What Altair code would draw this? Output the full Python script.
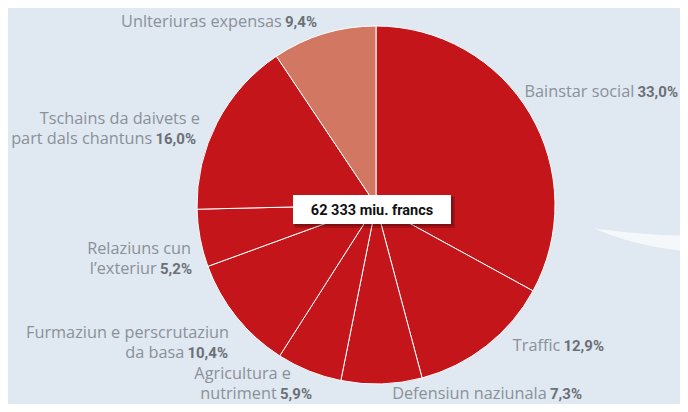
import altair as alt
import pandas as pd

# ---------------- data ----------------
categories = [
    "Bainstar social", "Traffic", "Defensiun naziunala", "Agricultura e nutriment",
    "Furmaziun e perscrutaziun da basa", "Relaziuns cun l’exteriur",
    "Tschains da daivets e part dals chantuns", "Unlteriuras expensas",
]
shares = [33.0, 12.9, 7.3, 5.9, 10.4, 5.2, 16.0, 9.4]
label_line1 = ["", "", "", "Agricultura e", "Furmaziun e perscrutaziun",
               "Relaziuns cun", "Tschains da daivets e", ""]
label_line2 = ["Bainstar social", "Traffic", "Defensiun naziunala", "nutriment",
               "da basa", "l’exteriur", "part dals chantuns", "Unlteriuras expensas"]
total_label = "62 333 miu. francs"

# ---------------- styles / layout ----------------
RED = "#c4161a"
SALMON = "#d27862"
BG = "#e0e8f1"
slice_colors = [RED] * 7 + [SALMON]
REG_FONT = "Open Sans"
BOLD_FONT = "Roboto"
REG_COLOR = "#8a9199"
BOLD_COLOR = "#6b7077"
FS = 16.3
BFS = 15

W, H = 672, 396
CX, CY, R = 368, 197, 179

label_right = [670, 596, 574, 304, 220, 184, 188, 309]
label_base = [89, 343, 391, 391, 350, 266, 136, 19]
line1_right = [0, 0, 0, 283, 221, 183, 192, 0]
LINE_GAP = 20


def fmt(v):
    return f"{v:.1f}".replace(".", ",") + "%"


def bold_width(s, size=BFS):
    w = 0.0
    for ch in s:
        if ch.isdigit():
            w += 0.562
        elif ch == ",":
            w += 0.22
        elif ch == "%":
            w += 0.74
        else:
            w += 0.3
    return w * size


pie_df = pd.DataFrame({
    "category": categories,
    "share": shares,
    "order": list(range(len(shares))),
    "color": slice_colors,
})

bold_txt = [fmt(v) for v in shares]
lab_df = pd.DataFrame({
    "line1": label_line1,
    "line2": label_line2,
    "bold": bold_txt,
    "R": label_right,
    "base": label_base,
    "rx": [r - bold_width(b) - 4 for r, b in zip(label_right, bold_txt)],
    "R1": line1_right,
    "base1": [b - LINE_GAP for b in label_base],
})

one = pd.DataFrame({"k": [0]})

# decorative swoosh (white crescent)
swoosh_white = alt.Chart(one).mark_arc(
    radius=297, theta=0, theta2=6.2832, color="#f5f8fb", clip=True
).encode(x=alt.value(702), y=alt.value(-53))
swoosh_cover = alt.Chart(one).mark_arc(
    radius=631, theta=0, theta2=6.2832, color=BG, clip=True
).encode(x=alt.value(682), y=alt.value(-403.5))

pie = alt.Chart(pie_df).mark_arc(radius=R, stroke="white", strokeWidth=1).encode(
    theta=alt.Theta("share:Q", stack=True),
    order=alt.Order("order:Q", sort="ascending"),
    color=alt.Color("color:N", scale=None, legend=None),
    x=alt.value(CX),
    y=alt.value(CY),
)

shadow1 = alt.Chart(one).mark_rect(color="black", opacity=0.18).encode(
    x=alt.value(287), x2=alt.value(447), y=alt.value(189), y2=alt.value(220))
shadow2 = alt.Chart(one).mark_rect(color="black", opacity=0.18).encode(
    x=alt.value(286), x2=alt.value(445), y=alt.value(188), y2=alt.value(218))
box = alt.Chart(one).mark_rect(color="white").encode(
    x=alt.value(285), x2=alt.value(443), y=alt.value(187), y2=alt.value(216))
center_text = alt.Chart(one).mark_text(
    text=total_label, font=BOLD_FONT, fontWeight="bold", fontSize=14.5,
    color="#111111", align="center", baseline="alphabetic"
).encode(x=alt.value(364), y=alt.value(207))

bold_layer = alt.Chart(lab_df).mark_text(
    font=BOLD_FONT, fontWeight="bold", fontSize=BFS, color=BOLD_COLOR,
    align="right", baseline="alphabetic"
).encode(
    x=alt.X("R:Q", scale=None, axis=None),
    y=alt.Y("base:Q", scale=None, axis=None),
    text="bold:N",
)
reg2_layer = alt.Chart(lab_df).mark_text(
    font=REG_FONT, fontSize=FS, color=REG_COLOR, align="right", baseline="alphabetic"
).encode(
    x=alt.X("rx:Q", scale=None, axis=None),
    y=alt.Y("base:Q", scale=None, axis=None),
    text="line2:N",
)
reg1_layer = alt.Chart(lab_df).transform_filter(
    alt.datum.line1 != ""
).mark_text(
    font=REG_FONT, fontSize=FS, color=REG_COLOR, align="right", baseline="alphabetic"
).encode(
    x=alt.X("R1:Q", scale=None, axis=None),
    y=alt.Y("base1:Q", scale=None, axis=None),
    text="line1:N",
)

chart = alt.layer(
    swoosh_white, swoosh_cover, pie, shadow1, shadow2, box, center_text,
    bold_layer, reg2_layer, reg1_layer,
).properties(
    width=W, height=H, background=BG, padding=0,
    autosize=alt.AutoSizeParams(type="none"),
).configure_view(stroke=None)

chart.save("out.html", embed_options={"renderer": "svg", "actions": False})
